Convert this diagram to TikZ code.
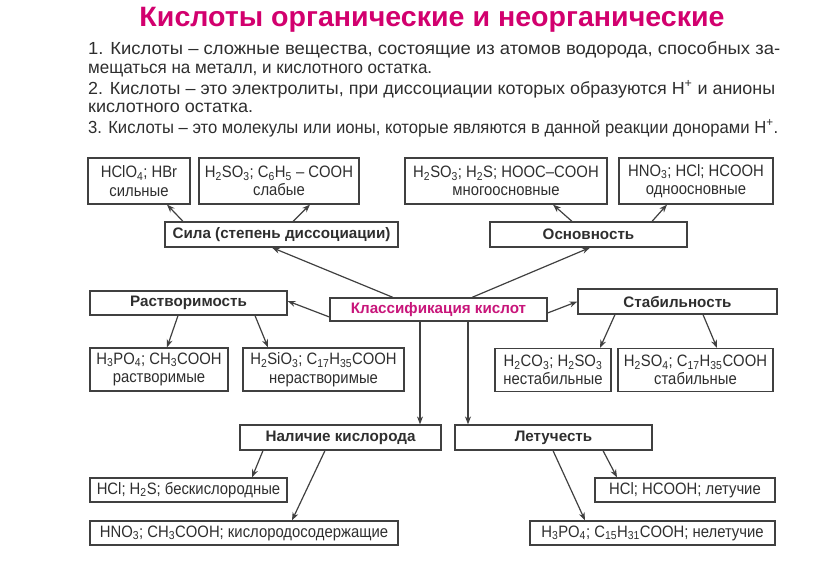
\documentclass[tikz,border=0pt]{standalone}
\usepackage{fontspec}
\setmainfont{Liberation Sans}
\newfontfamily\narrowf{Liberation Sans}[FakeStretch=0.9]
\usepackage{graphicx}
\usetikzlibrary{arrows.meta}
\definecolor{tmag}{HTML}{D2006E}
\definecolor{kmag}{HTML}{C8157A}
\definecolor{ink}{HTML}{2E2E2E}
\definecolor{edge}{HTML}{404040}
\newcommand{\sbt}[1]{\textsubscript{#1}}
\newcommand{\fitw}[2]{\resizebox{#1}{\height}{#2}}
\tikzset{
  bx/.style={draw=edge, line width=1.2pt, inner sep=0pt, text=ink, align=center,
    font=\narrowf\fontsize{16.5}{18.5}\selectfont},
  hd/.style={bx, font=\fontsize{15.2}{17}\selectfont\bfseries},
  arr/.style={draw=edge, line width=1.2pt, -{Stealth[length=8pt,width=6pt]}},
  txt/.style={anchor=base west, inner sep=0pt, text=ink, font=\fontsize{17.5}{20}\selectfont},
}
\begin{document}
\begin{tikzpicture}[x=1pt,y=-1pt]
\useasboundingbox (0,0) rectangle (816,578);
% title and text
\node[inner sep=0pt, text=tmag, font=\fontsize{28}{30}\selectfont\bfseries] (title) at (432,20) {\fitw{585pt}{Кислоты органические и неорганические}};
\node[txt] (t1) at (88,55) {\fitw{692pt}{1. Кислоты – сложные вещества, состоящие из атомов водорода, способных за-}};
\node[txt] (t2) at (88,73) {\fitw{344pt}{мещаться на металл, и кислотного остатка.}};
\node[txt] (t3) at (88,94) {\fitw{687pt}{2. Кислоты – это электролиты, при диссоциации которых образуются H\textsuperscript{+} и анионы}};
\node[txt] (t4) at (88,112) {\fitw{165pt}{кислотного остатка.}};
\node[txt] (t5) at (88,133) {\fitw{690pt}{3. Кислоты – это молекулы или ионы, которые являются в данной реакции донорами H\textsuperscript{+}.}};
% top row
\node[bx, minimum width=102, minimum height=46] (b1) at (139,181) {HClO\sbt{4}; HBr\\сильные};
\node[bx, minimum width=160, minimum height=46] (b2) at (279,181) {H\sbt{2}SO\sbt{3}; C\sbt{6}H\sbt{5} – COOH\\слабые};
\node[bx, minimum width=202, minimum height=46] (b3) at (506,181) {H\sbt{2}SO\sbt{3}; H\sbt{2}S; HOOC–COOH\\многоосновные};
\node[bx, minimum width=154, minimum height=46] (b4) at (696,181) {HNO\sbt{3}; HCl; HCOOH\\одноосновные};
\node[hd, minimum width=233, minimum height=25] (sila) at (281.5,234.5) {Сила (степень диссоциации)};
\node[hd, minimum width=197, minimum height=25] (osn) at (588.5,234.5) {Основность};
% middle row
\node[hd, minimum width=197, minimum height=24] (rast) at (188.5,303) {Растворимость};
\node[hd, minimum width=217, minimum height=23, text=kmag] (klass) at (438.5,309.5) {Классификация кислот};
\node[hd, minimum width=199, minimum height=25] (stab) at (677.5,301.5) {Стабильность};
\node[bx, minimum width=138, minimum height=43] (r1) at (159,369.5) {H\sbt{3}PO\sbt{4}; CH\sbt{3}COOH\\растворимые};
\node[bx, minimum width=161, minimum height=43] (r2) at (323.5,369.5) {H\sbt{2}SiO\sbt{3}; C\sbt{17}H\sbt{35}COOH\\нерастворимые};
\node[bx, minimum width=116, minimum height=43] (s1) at (553,370) {H\sbt{2}CO\sbt{3}; H\sbt{2}SO\sbt{3}\\нестабильные};
\node[bx, minimum width=155, minimum height=43] (s2) at (695.5,370) {H\sbt{2}SO\sbt{4}; C\sbt{17}H\sbt{35}COOH\\стабильные};
% bottom
\node[hd, minimum width=201, minimum height=25] (nal) at (340.5,437.5) {Наличие кислорода};
\node[hd, minimum width=197, minimum height=25] (let) at (553.5,437.5) {Летучесть};
\node[bx, minimum width=197, minimum height=24] (n1) at (188.5,490) {HCl; H\sbt{2}S; бескислородные};
\node[bx, minimum width=308, minimum height=24] (n2) at (244,533) {HNO\sbt{3}; CH\sbt{3}COOH; кислородосодержащие};
\node[bx, minimum width=180, minimum height=24] (l1) at (685,490) {HCl; HCOOH; летучие};
\node[bx, minimum width=245, minimum height=24] (l2) at (652.5,533) {H\sbt{3}PO\sbt{4}; C\sbt{15}H\sbt{31}COOH; нелетучие};
% connectors
\draw[arr] ([xshift=-98.5pt]sila.north) -- ([xshift=28pt]b1.south);
\draw[arr] ([xshift=11.5pt]sila.north) -- ([xshift=31pt]b2.south);
\draw[arr] ([xshift=-16.5pt]osn.north) -- ([xshift=47pt]b3.south);
\draw[arr] ([xshift=63.5pt]osn.north) -- ([xshift=-29pt]b4.south);
\draw[arr] ([xshift=-45.5pt]klass.north) -- ([xshift=-9.5pt]sila.south);
\draw[arr] ([xshift=33.5pt]klass.north) -- ([xshift=1.5pt]osn.south);
\draw[arr] ([yshift=-7.5pt]klass.west) -- ([yshift=2pt]rast.east);
\draw[arr] ([yshift=-3.5pt]klass.east) -- (stab.west);
\draw[arr] ([xshift=-18.5pt]klass.south) -- ([xshift=-18.5pt]klass.south |- nal.north);
\draw[arr] ([xshift=29.5pt]klass.south) -- ([xshift=29.5pt]klass.south |- let.north);
\draw[arr] ([xshift=-10.5pt]rast.south) -- ([xshift=8pt]r1.north);
\draw[arr] ([xshift=66.5pt]rast.south) -- ([xshift=-55.5pt]r2.north);
\draw[arr] ([xshift=-62.5pt]stab.south) -- ([xshift=47pt]s1.north);
\draw[arr] ([xshift=25.5pt]stab.south) -- ([xshift=21.5pt]s2.north);
\draw[arr] ([xshift=-77.5pt]nal.south) -- ([xshift=63.5pt]n1.north);
\draw[arr] ([xshift=-15.5pt]nal.south) -- ([xshift=48pt]n2.north);
\draw[arr] ([xshift=49.5pt]let.south) -- ([xshift=-68pt]l1.north);
\draw[arr] ([xshift=-0.5pt]let.south) -- ([xshift=-67.5pt]l2.north);
\end{tikzpicture}
\end{document}
